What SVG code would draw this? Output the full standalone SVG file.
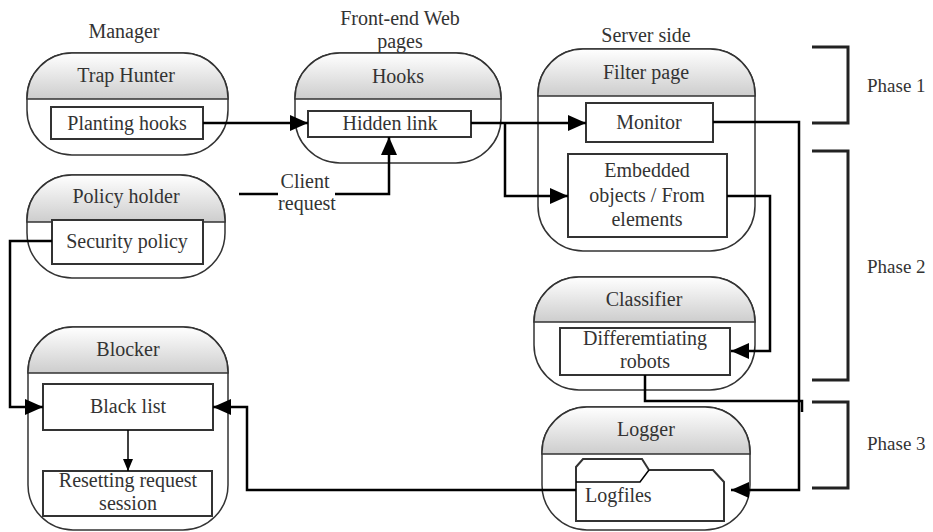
<svg xmlns="http://www.w3.org/2000/svg" width="933" height="532" viewBox="0 0 933 532" font-family="Liberation Serif, Times New Roman, serif">
  <defs>
    <linearGradient id="hdr" x1="0" y1="0" x2="0" y2="1">
      <stop offset="0" stop-color="#ffffff"/>
      <stop offset="1" stop-color="#cdcdcd"/>
    </linearGradient>
    <marker id="arrow" markerUnits="userSpaceOnUse" markerWidth="18" markerHeight="16" refX="18" refY="8" orient="auto">
      <path d="M0,0 L18,8 L0,16 Z" fill="#000"/>
    </marker>
    <marker id="arrowSmall" markerUnits="userSpaceOnUse" markerWidth="12" markerHeight="10" refX="12" refY="5" orient="auto">
      <path d="M0,0 L12,5 L0,10 Z" fill="#000"/>
    </marker>
    <style>
      text { font-family: "Liberation Serif", "Times New Roman", serif; font-size: 20px; fill: #333; }
      .mid { text-anchor: middle; }
      .phase { font-size: 19px; }
      .shell { fill: #fff; stroke: #333; stroke-width: 1.5; }
      .head { fill: url(#hdr); stroke: #333; stroke-width: 1.5; }
      .box { fill: #fff; stroke: #333; stroke-width: 2; }
      .conn { fill: none; stroke: #000; stroke-width: 2.5; }
      .thin { fill: none; stroke: #000; stroke-width: 1.5; }
      .bracket { fill: none; stroke: #222; stroke-width: 3; }
    </style>
  </defs>

  <!-- column captions -->
  <text class="mid" x="124" y="38">Manager</text>
  <text class="mid" x="400" y="25">Front-end Web</text>
  <text class="mid" x="400" y="48">pages</text>
  <text class="mid" x="646" y="42">Server side</text>

  <g id="trap-hunter">
    <rect class="shell" x="27" y="53" width="201" height="102" rx="45" ry="45"/>
    <path class="head" d="M27,99 V98 A45,45 0 0 1 72,53 H183 A45,45 0 0 1 228,98 V99 Z"/>
    <text class="mid" x="126" y="82">Trap Hunter</text>
    <rect class="box" x="51" y="107" width="152" height="32"/>
    <text class="mid" x="127" y="130">Planting hooks</text>
  </g>

  <g id="hooks">
    <rect class="shell" x="295" y="53" width="206" height="110" rx="45" ry="45"/>
    <path class="head" d="M295,99 V98 A45,45 0 0 1 340,53 H456 A45,45 0 0 1 501,98 V99 Z"/>
    <text class="mid" x="398" y="83">Hooks</text>
    <rect class="box" x="308" y="111" width="163" height="26"/>
    <text class="mid" x="390" y="130">Hidden link</text>
  </g>

  <g id="filter-page">
    <rect class="shell" x="538" y="49" width="217" height="202" rx="45" ry="45"/>
    <path class="head" d="M538,96 V94 A45,45 0 0 1 583,49 H710 A45,45 0 0 1 755,94 V96 Z"/>
    <text class="mid" x="646" y="79">Filter page</text>
    <rect class="box" x="586" y="103" width="127" height="39"/>
    <text class="mid" x="649" y="129">Monitor</text>
    <rect class="box" x="568" y="154" width="159" height="83"/>
    <text class="mid" x="647" y="177">Embedded</text>
    <text class="mid" x="647" y="202">objects / From</text>
    <text class="mid" x="647" y="226">elements</text>
  </g>

  <g id="policy-holder">
    <rect class="shell" x="27" y="175" width="198" height="103" rx="45" ry="45"/>
    <path class="head" d="M27,222 V220 A45,45 0 0 1 72,175 H180 A45,45 0 0 1 225,220 V222 Z"/>
    <text class="mid" x="126" y="203">Policy holder</text>
    <rect class="box" x="52" y="220" width="151" height="44"/>
    <text class="mid" x="127" y="248">Security policy</text>
  </g>

  <g id="classifier">
    <rect class="shell" x="534" y="277" width="221" height="113" rx="45" ry="45"/>
    <path class="head" d="M534,322 A45,45 0 0 1 579,277 H710 A45,45 0 0 1 755,322 Z"/>
    <text class="mid" x="644" y="306">Classifier</text>
    <rect class="box" x="560" y="328" width="170" height="47"/>
    <text class="mid" x="645" y="345">Differemtiating</text>
    <text class="mid" x="645" y="368">robots</text>
  </g>

  <g id="blocker">
    <rect class="shell" x="28" y="327" width="200" height="203" rx="45" ry="45"/>
    <path class="head" d="M28,373 V372 A45,45 0 0 1 73,327 H183 A45,45 0 0 1 228,372 V373 Z"/>
    <text class="mid" x="128" y="356">Blocker</text>
    <rect class="box" x="43" y="384" width="170" height="46"/>
    <text class="mid" x="128" y="413">Black list</text>
    <rect class="box" x="43" y="471" width="169" height="45"/>
    <text class="mid" x="128" y="487">Resetting request</text>
    <text class="mid" x="128" y="510">session</text>
  </g>

  <g id="logger">
    <rect class="shell" x="542" y="407" width="208" height="123" rx="45" ry="45"/>
    <path class="head" d="M542,454 V452 A45,45 0 0 1 587,407 H705 A45,45 0 0 1 750,452 V454 Z"/>
    <text class="mid" x="646" y="436">Logger</text>
    <path class="box" d="M576,521 V467 L583,459 H642 L649,470 H713 L724,482 V521 Z"/>
    <path class="thin" stroke="#333" d="M576,482 H640 L649,470"/>
    <text x="585" y="502">Logfiles</text>
  </g>

  <g id="connectors">
    <path class="conn" d="M203,123 H308" marker-end="url(#arrow)"/>
    <path class="conn" d="M239,194 H278"/>
    <path class="conn" d="M335,194 H389 V137" marker-end="url(#arrow)"/>
    <path class="conn" d="M471,123 H586" marker-end="url(#arrow)"/>
    <path class="conn" d="M505,123 V196 H568" marker-end="url(#arrow)"/>
    <path class="conn" d="M713,122 H799 V490 H731" marker-end="url(#arrow)"/>
    <path class="conn" d="M727,196 H770 V351 H731" marker-end="url(#arrow)"/>
    <path class="conn" d="M645,375 V401 H802 V412"/>
    <path class="conn" d="M576,490 H247 V407 H213" marker-end="url(#arrow)"/>
    <path class="conn" d="M52,241 H10 V407 H43" marker-end="url(#arrow)"/>
    <path class="thin" d="M128,430 V471" marker-end="url(#arrowSmall)"/>
  </g>

  <text class="mid" x="305" y="188">Client</text>
  <text class="mid" x="307" y="210">request</text>

  <g id="phases">
    <path class="bracket" d="M812,47 H848 V123 H812"/>
    <path class="bracket" d="M812,151 H848 V380 H812"/>
    <path class="bracket" d="M812,402 H848 V488 H812"/>
    <text class="phase" x="867" y="92">Phase 1</text>
    <text class="phase" x="867" y="273">Phase 2</text>
    <text class="phase" x="867" y="450">Phase 3</text>
  </g>
</svg>
